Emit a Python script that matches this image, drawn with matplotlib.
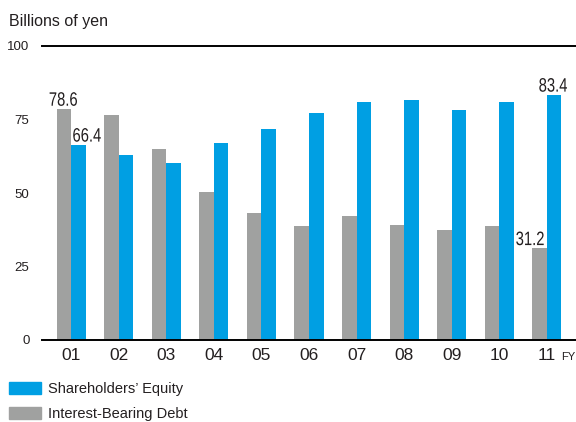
import matplotlib
matplotlib.use("Agg")
import matplotlib.pyplot as plt
import numpy as np
from matplotlib import font_manager
from matplotlib.patches import Patch, PathPatch
from matplotlib.textpath import TextPath
from matplotlib.font_manager import FontProperties
import matplotlib.transforms as mtransforms

years = ["01", "02", "03", "04", "05", "06", "07", "08", "09", "10", "11"]
debt = [78.6, 76.7, 64.9, 50.3, 43.3, 38.8, 42.2, 39.1, 37.4, 38.8, 31.2]
equity = [66.4, 62.8, 60.1, 66.9, 71.6, 77.1, 81.1, 81.8, 78.4, 80.8, 83.4]
yticks = [0, 25, 50, 75, 100]

BLUE = "#009fe3"
GRAY = "#a0a1a0"
TXT = "#231f20"

names = {f.name for f in font_manager.fontManager.ttflist}
base = "Liberation Sans" if "Liberation Sans" in names else "DejaVu Sans"
plt.rcParams["font.family"] = [base, "DejaVu Sans"]

fig = plt.figure(figsize=(5.76, 4.22), dpi=100)
ax = fig.add_axes([42 / 576, 82 / 422, 534 / 576, 294 / 422])

x = np.arange(len(years))
w = 0.305
ax.bar(x - w / 2, debt, w, color=GRAY, linewidth=0, zorder=2)
ax.bar(x + w / 2, equity, w, color=BLUE, linewidth=0, zorder=2)

ax.set_xlim(-0.61, 10.61)
ax.set_ylim(0, 100)
for s in ax.spines.values():
    s.set_visible(False)
ax.axhline(0, color="black", lw=1.4, zorder=3, clip_on=False)
ax.axhline(100, color="black", lw=1.4, zorder=3, clip_on=False)

ax.set_yticks(yticks)
ax.set_yticklabels([str(v) for v in yticks], fontsize=9.5, color=TXT)
ax.tick_params(axis="y", length=0, pad=9)
ax.set_xticks(x)
ax.set_xticklabels(years, fontsize=12.5, color=TXT)
ax.tick_params(axis="x", length=0, pad=6)


def narrow_text(xd, yd, s, size=14, squeeze=0.76, gap=3):
    # condensed label: text path squeezed horizontally, centred on xd, bottom at yd
    tp = TextPath((0, 0), s, size=size, prop=FontProperties(family=base))
    ext = tp.get_extents()
    px, py = ax.transData.transform((xd, yd))
    k = fig.dpi / 72
    tr = (mtransforms.Affine2D()
          .translate(-(ext.x0 + ext.width / 2), -ext.y0)
          .scale(k * squeeze, k)
          .translate(px, py + gap))
    fig.add_artist(PathPatch(tp, transform=tr, color=TXT, lw=0))


# value labels on first and last years
narrow_text(x[0] - w / 2 - 0.01, debt[0], f"{debt[0]:.1f}")
narrow_text(x[0] + 0.336, equity[0], f"{equity[0]:.1f}")
narrow_text(x[-1] - 0.357, debt[-1], f"{debt[-1]:.1f}")
narrow_text(x[-1] + 0.13, equity[-1], f"{equity[-1]:.1f}")

fig.text(575 / 576, 1 - 357 / 422, "FY", fontsize=8, color=TXT, va="center", ha="right")
fig.text(9 / 576, 1 - 26 / 422, "Billions of yen", fontsize=11.5, color=TXT, va="baseline")

handles = [Patch(color=BLUE, label="Shareholders\u2019 Equity"),
           Patch(color=GRAY, label="Interest-Bearing Debt")]
fig.legend(handles=handles, loc="upper left", bbox_to_anchor=(9 / 576, 1 - 382 / 422),
           frameon=False, fontsize=10.5, handlelength=2.2, handleheight=0.85,
           handletextpad=0.5, labelspacing=0.75, labelcolor=TXT, borderaxespad=0,
           borderpad=0)

fig.savefig("out.png", dpi=100)
